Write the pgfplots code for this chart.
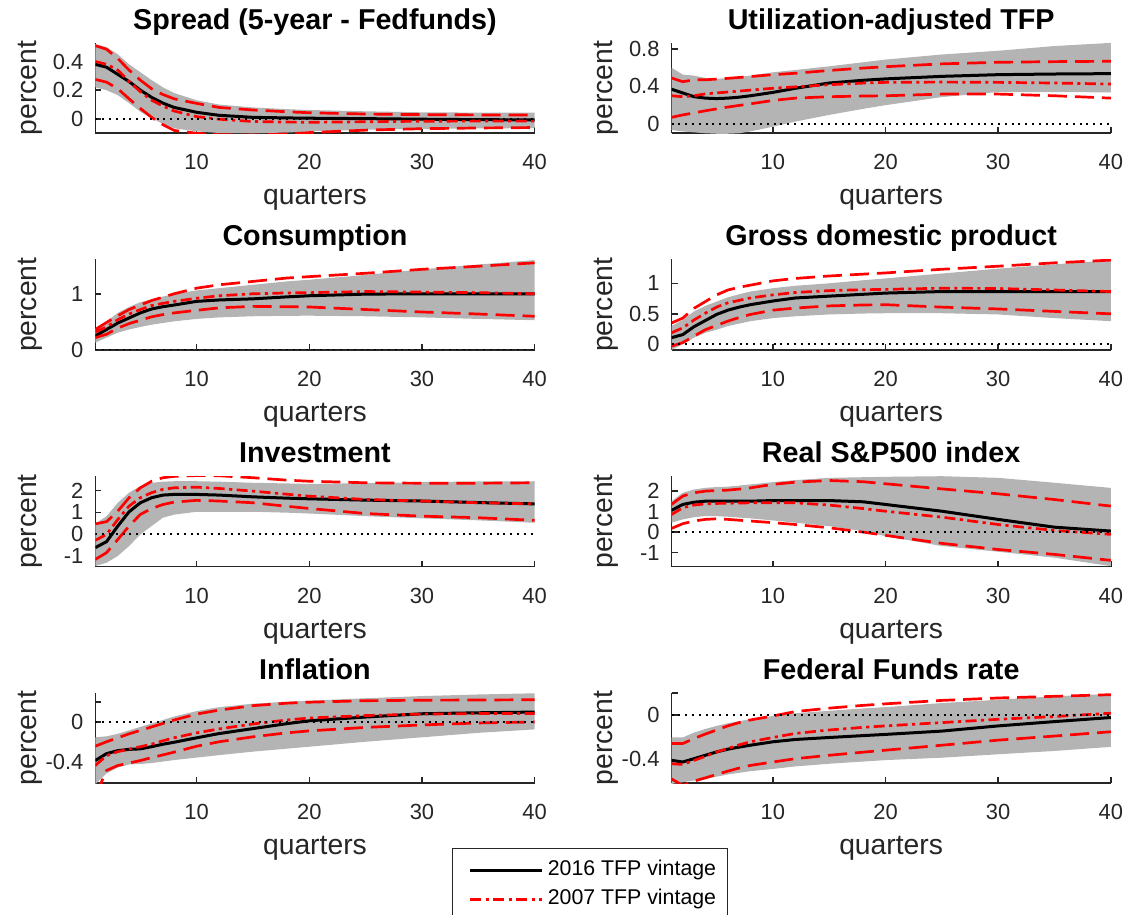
\documentclass[border=0pt]{standalone}
\usepackage{fontspec}
\setmainfont{Liberation Sans}
\usepackage{pgfplots}
\usepackage{pgfplotstable}
\pgfplotsset{compat=1.18}
\usepgfplotslibrary{fillbetween}
\definecolor{bandgray}{RGB}{180,180,180}
\definecolor{axgray}{RGB}{38,38,38}

% columns: x, 2016 band lower, 2016 band upper, 2016 median, 2007 median, 2007 lower, 2007 upper
\pgfplotstableread{
x bl bu m16 m07 l07 u07
1 0.22 0.52 0.38 0.40 0.275 0.51
2 0.20 0.50 0.36 0.38 0.256 0.485
3 0.165 0.45 0.31 0.34 0.21 0.42
4 0.11 0.38 0.26 0.26 0.14 0.34
5 0.05 0.325 0.20 0.19 0.073 0.27
6 0.005 0.27 0.15 0.13 0.011 0.21
7 -0.035 0.22 0.11 0.09 -0.04 0.17
8 -0.065 0.18 0.08 0.055 -0.08 0.14
10 -0.087 0.13 0.046 0.016 -0.10 0.108
12 -0.098 0.10 0.025 -0.002 -0.11 0.08
15 -0.10 0.08 0.011 -0.018 -0.112 0.062
18 -0.095 0.068 0.007 -0.022 -0.105 0.05
20 -0.087 0.062 0.005 -0.023 -0.095 0.043
25 -0.075 0.053 0.002 -0.02 -0.078 0.034
30 -0.069 0.046 -0.002 -0.016 -0.068 0.03
35 -0.066 0.044 -0.005 -0.015 -0.063 0.028
40 -0.064 0.043 -0.007 -0.014 -0.06 0.027
}\spread
\pgfplotstableread{
x bl bu m16 m07 l07 u07
1 -0.065 0.60 0.37 0.30 0.07 0.49
2 -0.08 0.525 0.33 0.29 0.096 0.45
3 -0.09 0.515 0.29 0.30 0.118 0.47
4 -0.1 0.49 0.275 0.32 0.14 0.47
5 -0.105 0.48 0.27 0.33 0.16 0.478
6 -0.105 0.49 0.275 0.34 0.18 0.486
7 -0.1 0.50 0.285 0.35 0.197 0.495
8 -0.08 0.515 0.30 0.36 0.214 0.505
10 -0.03 0.55 0.336 0.38 0.25 0.525
12 0.025 0.575 0.38 0.395 0.275 0.54
15 0.096 0.614 0.436 0.418 0.29 0.57
18 0.16 0.657 0.465 0.435 0.297 0.595
20 0.2 0.686 0.48 0.443 0.30 0.61
25 0.286 0.74 0.507 0.446 0.318 0.64
30 0.34 0.78 0.525 0.443 0.318 0.657
35 0.34 0.83 0.532 0.436 0.30 0.664
40 0.336 0.864 0.536 0.425 0.275 0.668
}\tfp
\pgfplotstableread{
x bl bu m16 m07 l07 u07
1 0.13 0.376 0.25 0.32 0.22 0.365
2 0.22 0.51 0.365 0.41 0.28 0.49
3 0.31 0.66 0.48 0.54 0.39 0.61
4 0.365 0.765 0.57 0.64 0.47 0.72
5 0.41 0.85 0.66 0.72 0.53 0.80
6 0.45 0.9 0.73 0.79 0.59 0.88
7 0.48 0.95 0.77 0.83 0.63 0.94
8 0.51 1.0 0.80 0.865 0.66 1.0
10 0.553 1.06 0.865 0.92 0.706 1.10
12 0.58 1.1 0.89 0.965 0.75 1.16
15 0.6 1.16 0.91 1.0 0.776 1.22
18 0.608 1.22 0.945 1.015 0.77 1.28
20 0.61 1.25 0.965 1.02 0.765 1.305
25 0.6 1.335 0.994 1.04 0.72 1.365
30 0.58 1.435 1.0 1.03 0.676 1.435
35 0.553 1.52 1.0 1.02 0.64 1.49
40 0.53 1.6 1.0 1.0 0.6 1.55
}\cons
\pgfplotstableread{
x bl bu m16 m07 l07 u07
1 -0.09 0.3 0.11 0.19 -0.03 0.35
2 0.0 0.4 0.16 0.27 0.03 0.43
3 0.11 0.54 0.29 0.40 0.135 0.59
4 0.19 0.63 0.39 0.51 0.24 0.70
5 0.24 0.70 0.49 0.61 0.31 0.81
6 0.30 0.77 0.56 0.68 0.38 0.89
7 0.34 0.82 0.61 0.72 0.44 0.935
8 0.38 0.865 0.65 0.76 0.49 0.97
10 0.43 0.92 0.71 0.81 0.56 1.04
12 0.46 0.96 0.76 0.85 0.595 1.08
15 0.49 1.0 0.79 0.88 0.63 1.12
18 0.505 1.05 0.82 0.895 0.645 1.15
20 0.51 1.08 0.84 0.90 0.65 1.17
25 0.51 1.16 0.865 0.92 0.61 1.23
30 0.49 1.24 0.865 0.915 0.58 1.28
35 0.43 1.31 0.865 0.89 0.54 1.335
40 0.38 1.38 0.865 0.865 0.5 1.38
}\gdp
\pgfplotstableread{
x bl bu m16 m07 l07 u07
1 -1.44 0.48 -0.6 -0.27 -1.14 0.48
2 -1.29 0.83 -0.33 0.0 -0.83 0.58
3 -0.98 1.44 0.38 0.68 -0.23 1.06
4 -0.53 1.9 1.03 1.29 0.38 1.67
5 0.0 2.2 1.44 1.67 0.91 2.12
6 0.38 2.35 1.67 1.9 1.18 2.42
7 0.76 2.4 1.79 2.05 1.36 2.58
8 0.9 2.42 1.82 2.12 1.47 2.64
10 1.03 2.42 1.82 2.15 1.55 2.68
12 1.03 2.4 1.79 2.09 1.52 2.67
15 1.03 2.35 1.71 1.97 1.44 2.58
18 0.99 2.32 1.65 1.83 1.28 2.47
20 0.95 2.3 1.62 1.74 1.18 2.42
25 0.83 2.33 1.56 1.59 0.95 2.35
30 0.73 2.38 1.52 1.52 0.83 2.33
35 0.64 2.41 1.45 1.44 0.76 2.33
40 0.53 2.42 1.39 1.39 0.64 2.35
}\inv
\pgfplotstableread{
x bl bu m16 m07 l07 u07
1 0.46 1.51 1.06 0.86 0.18 1.35
2 0.62 1.92 1.35 1.19 0.41 1.76
3 0.73 2.08 1.46 1.32 0.54 1.92
4 0.78 2.16 1.51 1.38 0.62 2.0
5 0.78 2.2 1.51 1.40 0.65 2.03
6 0.75 2.22 1.51 1.41 0.62 2.05
7 0.71 2.27 1.51 1.42 0.58 2.1
8 0.67 2.33 1.51 1.43 0.54 2.16
10 0.57 2.44 1.54 1.43 0.46 2.33
12 0.46 2.54 1.54 1.43 0.37 2.44
15 0.29 2.65 1.54 1.32 0.21 2.52
18 0.05 2.68 1.48 1.15 0.0 2.46
20 -0.2 2.7 1.35 1.02 -0.16 2.36
25 -0.68 2.73 1.02 0.73 -0.55 2.11
30 -0.96 2.65 0.62 0.37 -0.85 1.87
35 -1.25 2.41 0.24 0.08 -1.09 1.59
40 -1.66 2.16 0.05 -0.11 -1.38 1.27
}\sp
\pgfplotstableread{
x bl bu m16 m07 l07 u07
1 -0.63 -0.155 -0.39 -0.44 -0.75 -0.245
2 -0.52 -0.145 -0.32 -0.34 -0.49 -0.2
3 -0.46 -0.12 -0.29 -0.30 -0.44 -0.16
4 -0.43 -0.085 -0.277 -0.275 -0.415 -0.12
5 -0.425 -0.05 -0.272 -0.25 -0.39 -0.085
6 -0.415 -0.015 -0.25 -0.225 -0.36 -0.05
7 -0.40 0.02 -0.225 -0.19 -0.333 -0.015
8 -0.385 0.055 -0.205 -0.16 -0.305 0.02
10 -0.36 0.11 -0.16 -0.11 -0.245 0.08
12 -0.335 0.15 -0.117 -0.07 -0.2 0.12
15 -0.3 0.185 -0.067 -0.02 -0.15 0.165
18 -0.27 0.205 -0.017 0.02 -0.11 0.19
20 -0.25 0.215 0.012 0.04 -0.09 0.2
25 -0.2 0.24 0.05 0.065 -0.055 0.215
30 -0.155 0.262 0.083 0.08 -0.03 0.22
35 -0.11 0.278 0.093 0.085 -0.01 0.222
40 -0.075 0.29 0.1 0.085 0.0 0.225
}\infl
\pgfplotstableread{
x bl bu m16 m07 l07 u07
1 -0.626 -0.205 -0.412 -0.443 -0.58 -0.26
2 -0.61 -0.205 -0.427 -0.449 -0.64 -0.26
3 -0.595 -0.16 -0.397 -0.412 -0.60 -0.214
4 -0.58 -0.128 -0.366 -0.376 -0.571 -0.174
5 -0.56 -0.1 -0.336 -0.336 -0.54 -0.137
6 -0.54 -0.076 -0.311 -0.305 -0.51 -0.1
7 -0.525 -0.057 -0.292 -0.272 -0.482 -0.07
8 -0.51 -0.04 -0.275 -0.244 -0.458 -0.046
10 -0.49 -0.01 -0.244 -0.205 -0.427 -0.01
12 -0.467 0.015 -0.223 -0.168 -0.397 0.03
15 -0.443 0.037 -0.205 -0.137 -0.366 0.061
18 -0.423 0.058 -0.188 -0.113 -0.338 0.086
20 -0.41 0.07 -0.177 -0.1 -0.32 0.1
25 -0.388 0.107 -0.147 -0.07 -0.275 0.131
30 -0.357 0.137 -0.1 -0.04 -0.229 0.153
35 -0.327 0.168 -0.061 -0.015 -0.192 0.168
40 -0.29 0.19 -0.024 0.015 -0.153 0.183
}\ffr

\tikzset{
  dash07/.style={red, line width=1.35bp, dash pattern=on 9.5bp off 4bp},
  dashdot07/.style={red, line width=1.35bp, dash pattern=on 5.5bp off 2.2bp on 1.6bp off 2.2bp},
  med16/.style={black, line width=1.5bp},
}
\pgfplotsset{
  panel/.style={
    scale only axis, width=219.65bp, height=45.25bp,
    xmin=1, xmax=40, xtick={10,20,30,40},
    axis lines*=left, tick align=inside,
    axis line style={draw=axgray, line width=0.8bp},
    tick style={draw=axgray, line width=0.8bp},
    major tick length=3bp,
    /pgf/number format/assume math mode=true,
    tick label style={font=\fontsize{11}{13}\selectfont, text=axgray},
    xticklabel style={anchor=center, inner sep=0pt, yshift=-14.5bp},
    yticklabel style={anchor=east, inner sep=0pt, xshift=-5.8bp},
    every axis title shift=0pt,
    title style={at={(axis description cs:0.5,1.152)}, anchor=base, font=\bfseries\fontsize{14.4}{16}\selectfont, text=black, inner sep=0pt},
    xlabel={quarters}, ylabel={percent},
    xlabel style={at={(axis description cs:0.5,-0.792)}, anchor=base, font=\fontsize{14.2}{16}\selectfont, text=axgray, inner sep=0pt},
    ylabel style={at={(axis description cs:-0.1343,0.5)}, anchor=base, font=\fontsize{14.2}{16}\selectfont, text=axgray, inner sep=0pt},
  }
}
\newcommand{\panelplots}[1]{%
  \addplot[draw=none, name path=U, forget plot] table[x=x,y=bu]{#1};
  \addplot[draw=none, name path=L, forget plot] table[x=x,y=bl]{#1};
  \addplot[fill=bandgray, draw=none, forget plot] fill between[of=U and L];
  \addplot[med16, forget plot] table[x=x,y=m16]{#1};
  \addplot[dash07, forget plot] table[x=x,y=l07]{#1};
  \addplot[dash07, forget plot] table[x=x,y=u07]{#1};
  \addplot[dashdot07, forget plot] table[x=x,y=m07]{#1};
  \addplot[black, line width=1bp, dash pattern=on 1bp off 2.4bp, forget plot] coordinates {(1,0) (40,0)};
}

\begin{document}
\begin{tikzpicture}
% row 1
\begin{axis}[panel, at={(47.65bp,390.85bp)}, anchor=south west,
  title={Spread (5-year - Fedfunds)}, ymin=-0.1, ymax=0.53,
  ytick={0,0.2,0.4}, yticklabels={0,0.2,0.4}]
\panelplots{\spread}
\end{axis}
\begin{axis}[panel, at={(335.75bp,390.85bp)}, anchor=south west,
  title={Utilization-adjusted TFP}, ymin=-0.1, ymax=0.865,
  ytick={0,0.4,0.8}, yticklabels={0,0.4,0.8}]
\panelplots{\tfp}
\end{axis}
% row 2
\begin{axis}[panel, at={(47.65bp,282.5bp)}, anchor=south west,
  title={Consumption}, ymin=0, ymax=1.61,
  ytick={0,1}, yticklabels={0,1}]
\panelplots{\cons}
\end{axis}
\begin{axis}[panel, at={(335.75bp,282.5bp)}, anchor=south west,
  title={Gross domestic product}, ymin=-0.092, ymax=1.39,
  ytick={0,0.5,1}, yticklabels={0,0.5,1}]
\panelplots{\gdp}
\end{axis}
% row 3
\begin{axis}[panel, at={(47.65bp,174.15bp)}, anchor=south west,
  title={Investment}, ymin=-1.47, ymax=2.65,
  ytick={-1,0,1,2}, yticklabels={-1,0,1,2}]
\panelplots{\inv}
\end{axis}
\begin{axis}[panel, at={(335.75bp,174.15bp)}, anchor=south west,
  title={Real S\&P500 index}, ymin=-1.69, ymax=2.73,
  ytick={-1,0,1,2}, yticklabels={-1,0,1,2}]
\panelplots{\sp}
\end{axis}
% row 4
\begin{axis}[panel, at={(47.65bp,65.85bp)}, anchor=south west,
  title={Inflation}, ymin=-0.62, ymax=0.295,
  ytick={-0.4,0,0.2}, yticklabels={-0.4,0,{}},
  legend style={at={(axis description cs:1.126,-0.715)}, anchor=north,
    draw=axgray, line width=0.6bp, fill=white,
    font=\fontsize{10.7}{12}\selectfont, inner xsep=3.7bp, inner ysep=3.4bp,
    nodes={inner ysep=2.2bp, text height=7.9bp, text depth=2.3bp, text=black}},
  legend cell align=left,
  legend image code/.code={\path (0bp,0bp); \draw[#1] (4.5bp,0bp) -- (40.5bp,0bp);}]
\addlegendimage{med16}
\addlegendentry{2016 TFP vintage}
\addlegendimage{dashdot07}
\addlegendentry{2007 TFP vintage}
\panelplots{\infl}
\end{axis}
\begin{axis}[panel, at={(335.75bp,65.85bp)}, anchor=south west,
  title={Federal Funds rate}, ymin=-0.62, ymax=0.2,
  ytick={-0.4,0,0.2}, yticklabels={-0.4,0,{}}]
\panelplots{\ffr}
\end{axis}
\pgfresetboundingbox
\path[use as bounding box] (0,0) rectangle (567bp,457.5bp);
\end{tikzpicture}
\end{document}
